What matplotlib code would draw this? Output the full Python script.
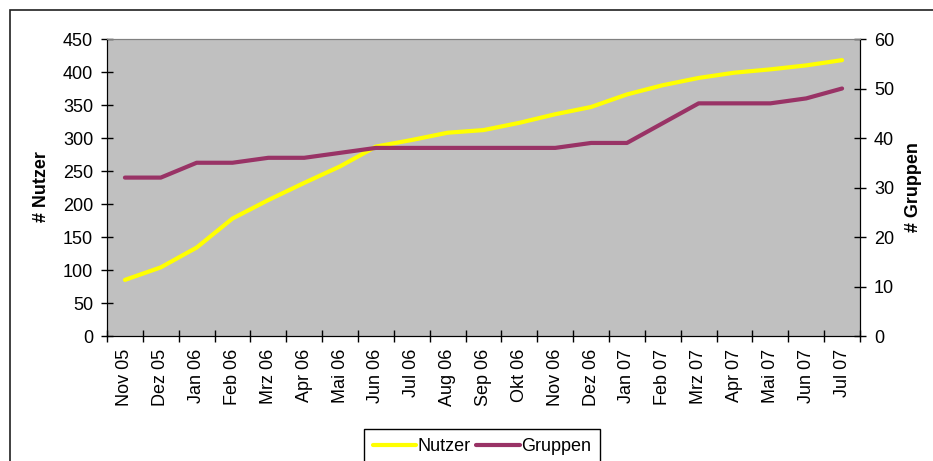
import matplotlib
matplotlib.use("Agg")
import matplotlib.pyplot as plt
from matplotlib.patches import Rectangle
import numpy as np

plt.rcParams["font.family"] = ["Liberation Sans", "DejaVu Sans"]

# data
months = ["Nov 05", "Dez 05", "Jan 06", "Feb 06", "Mrz 06", "Apr 06", "Mai 06",
          "Jun 06", "Jul 06", "Aug 06", "Sep 06", "Okt 06", "Nov 06", "Dez 06",
          "Jan 07", "Feb 07", "Mrz 07", "Apr 07", "Mai 07", "Jun 07", "Jul 07"]
nutzer = [85, 104, 134, 178, 206, 232, 257, 287, 297, 308, 312, 323, 336, 347,
          366, 380, 391, 399, 404, 410, 418]
gruppen = [32, 32, 35, 35, 36, 36, 37, 38, 38, 38, 38, 38, 38, 39,
           39, 43, 47, 47, 47, 48, 50]

W, H = 933, 461
fig = plt.figure(figsize=(W / 100, H / 100), dpi=100)

# plot area in pixels: x 107..860, y 39..336
ax = fig.add_axes([107 / W, 1 - 336 / H, (860 - 107) / W, (336 - 39) / H])
ax.set_facecolor("#C0C0C0")
ax2 = ax.twinx()

x = np.arange(len(months))
l1, = ax.plot(x, nutzer, color="#FFFF00", lw=3, solid_capstyle="round", label="Nutzer")
l2, = ax2.plot(x, gruppen, color="#993366", lw=3, solid_capstyle="round", label="Gruppen")

ax.set_xlim(-0.5, len(months) - 0.5)
ax.set_ylim(0, 450)
ax2.set_ylim(0, 60)
ax.set_yticks(range(0, 451, 50))
ax2.set_yticks(range(0, 61, 10))

# tick marks on category boundaries, labels in the middle
ax.set_xticks(np.arange(-0.5, len(months), 1.0))
ax.set_xticklabels([])
ax.set_xticks(x, minor=True)
ax.set_xticklabels(months, minor=True, rotation=90)
ax.tick_params(axis="x", which="major", direction="inout", length=8, width=1)
ax.tick_params(axis="x", which="minor", length=0, pad=9, labelsize=13)
ax.tick_params(axis="y", direction="inout", length=8, width=1, pad=6, labelsize=13)
ax2.tick_params(axis="y", direction="inout", length=8, width=1, pad=6, labelsize=13)

for a in (ax, ax2):
    a.spines["top"].set_color("#808080")
    a.spines["left"].set_color("black")
    a.spines["bottom"].set_color("black")
    a.spines["right"].set_color("black")

fig.text(41 / W, 1 - 187 / H, "# Nutzer", rotation=90, ha="center", va="center",
         fontsize=13, fontweight="bold")
fig.text(913 / W, 1 - 187 / H, "# Gruppen", rotation=90, ha="center", va="center",
         fontsize=13, fontweight="bold")

leg = fig.legend([l1, l2], ["Nutzer", "Gruppen"], loc="upper center",
                 bbox_to_anchor=(482 / W, 1 - 429 / H), ncol=2, fontsize=13,
                 frameon=True, fancybox=False, edgecolor="black", framealpha=1,
                 handlelength=2.4, handletextpad=0.1, columnspacing=0.3,
                 borderpad=0.5, borderaxespad=0)
leg.get_frame().set_linewidth(1)

# outer chart border
fig.add_artist(Rectangle((9.5 / W, -0.1), 1.2, 1 - 10 / H + 0.1,
                         transform=fig.transFigure, fill=False,
                         lw=1.2, ec="#202020"))

fig.savefig("out.png", dpi=100)
